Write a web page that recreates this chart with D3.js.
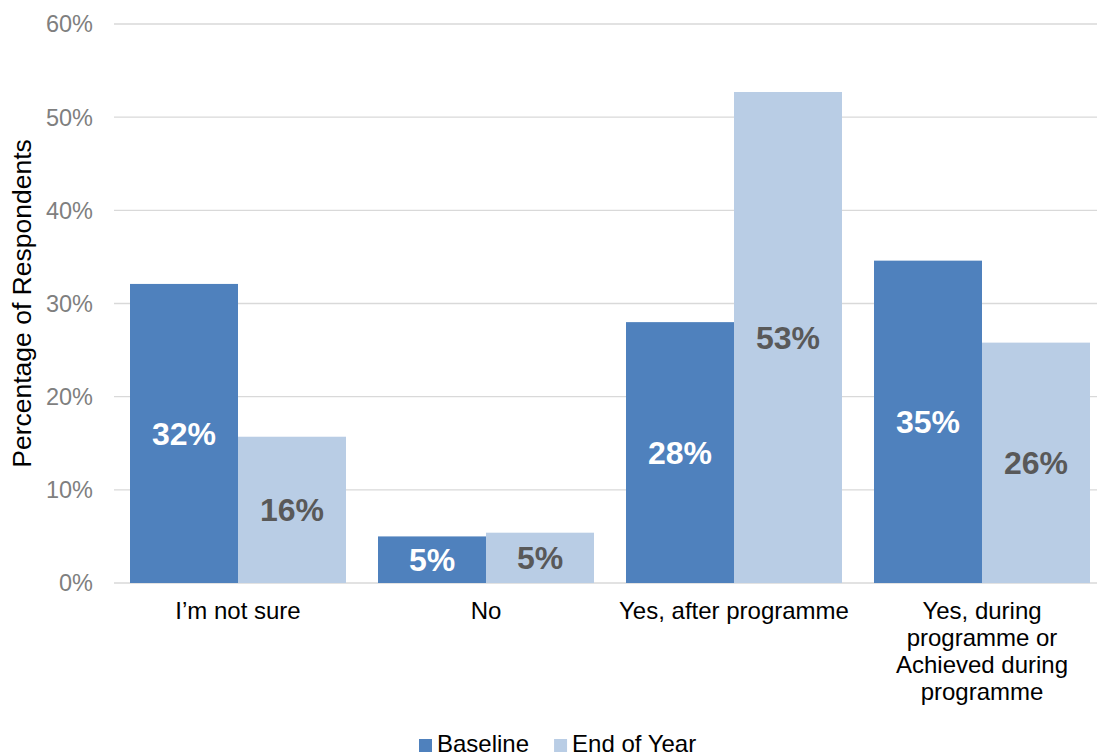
<!DOCTYPE html>
<html>
<head>
<meta charset="utf-8">
<script src="https://cdn.jsdelivr.net/npm/d3@7.9.0/dist/d3.min.js"></script>
<style>
  html, body { margin: 0; padding: 0; background: #fff; }
  svg { display: block; font-family: "Liberation Sans", Arial, sans-serif; }
</style>
</head>
<body>
<div id="chart"></div>
<script>
// Chart data
const categories = ['I’m not sure', 'No', 'Yes, after programme', 'Yes, during programme or Achieved during programme'];
const categoryLines = [
    ['I’m not sure'],
    ['No'],
    ['Yes, after programme'],
    ['Yes, during', 'programme or', 'Achieved during', 'programme']
];
const seriesNames = ['Baseline', 'End of Year'];
const baselineValues = [32.1, 5.0, 28.0, 34.6];
const endOfYearValues = [15.7, 5.4, 52.7, 25.8];
const yTicks = [0, 10, 20, 30, 40, 50, 60];

const colors = { 'Baseline': '#4f81bd', 'End of Year': '#b9cde5' };
const labelColors = { 'Baseline': '#ffffff', 'End of Year': '#595959' };

const width = 1097;
const height = 754;

const svg = d3.select('#chart').append('svg')
    .attr('width', width)
    .attr('height', height);

// Scales
const x = d3.scaleBand()
    .domain(categories)
    .range([114, 1106])
    .paddingInner(32 / 248)
    .paddingOuter(16 / 248);

const xSeries = d3.scaleBand()
    .domain(seriesNames)
    .range([0, x.bandwidth()]);

const y = d3.scaleLinear()
    .domain([0, 60])
    .range([583, 24]);

// Gridlines
svg.append('g')
    .selectAll('line')
    .data(yTicks)
    .join('line')
    .attr('x1', 114)
    .attr('x2', width)
    .attr('y1', d => y(d))
    .attr('y2', d => y(d))
    .attr('stroke', '#d9d9d9')
    .attr('stroke-width', 1.3);

// Y axis labels
svg.append('g')
    .selectAll('text')
    .data(yTicks)
    .join('text')
    .attr('x', 93)
    .attr('y', d => y(d))
    .attr('dy', '0.36em')
    .attr('text-anchor', 'end')
    .style('font-size', '23.5px')
    .style('fill', '#7f7f7f')
    .text(d => d + '%');

// Axis title
svg.append('text')
    .attr('transform', `translate(31, ${y(30)}) rotate(-90)`)
    .attr('text-anchor', 'middle')
    .style('font-size', '26.5px')
    .style('fill', '#000')
    .text('Percentage of Respondents');

// Bars
const rows = categories.map((c, i) => ({
    category: c,
    values: [
        { series: 'Baseline', value: baselineValues[i] },
        { series: 'End of Year', value: endOfYearValues[i] }
    ]
}));

const groups = svg.append('g')
    .selectAll('g')
    .data(rows)
    .join('g')
    .attr('transform', d => `translate(${x(d.category)},0)`);

groups.selectAll('rect')
    .data(d => d.values)
    .join('rect')
    .attr('x', d => xSeries(d.series))
    .attr('y', d => y(d.value))
    .attr('width', xSeries.bandwidth())
    .attr('height', d => y(0) - y(d.value))
    .attr('fill', d => colors[d.series]);

// Data labels in the middle of each bar
groups.selectAll('text')
    .data(d => d.values)
    .join('text')
    .attr('x', d => xSeries(d.series) + xSeries.bandwidth() / 2)
    .attr('y', d => (y(d.value) + y(0)) / 2)
    .attr('dy', '0.36em')
    .attr('text-anchor', 'middle')
    .style('font-size', '32px')
    .style('font-weight', 'bold')
    .style('fill', d => labelColors[d.series])
    .text(d => Math.round(d.value) + '%');

// Category labels
const catLabels = svg.append('g')
    .selectAll('text')
    .data(categories)
    .join('text')
    .attr('x', d => x(d) + x.bandwidth() / 2)
    .attr('y', 619)
    .attr('text-anchor', 'middle')
    .style('font-size', '24px')
    .style('fill', '#000');

catLabels.selectAll('tspan')
    .data((d, i) => categoryLines[i])
    .join('tspan')
    .attr('x', function() { return d3.select(this.parentNode).attr('x'); })
    .attr('dy', (d, i) => i === 0 ? 0 : 27)
    .text(d => d);

// Legend
const legend = svg.append('g');
const legendItems = legend.selectAll('g')
    .data(seriesNames)
    .join('g');

legendItems.append('rect')
    .attr('width', 13)
    .attr('height', 13)
    .attr('y', 739)
    .attr('fill', d => colors[d]);

legendItems.append('text')
    .attr('x', 18)
    .attr('y', 752)
    .style('font-size', '24px')
    .style('fill', '#000')
    .text(d => d);

// Lay out legend items side by side
let offset = 419;
legendItems.each(function() {
    d3.select(this).attr('transform', `translate(${offset},0)`);
    offset += this.getBBox().width + 25;
});
</script>
</body>
</html>
